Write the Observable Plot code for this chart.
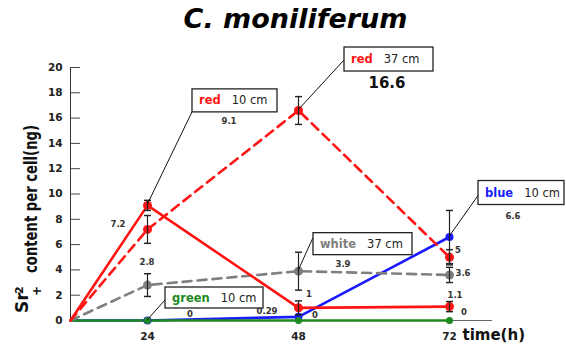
<!DOCTYPE html>
<html>
<head>
<meta charset="utf-8">
<script src="https://cdn.jsdelivr.net/npm/d3@7"></script>
<script src="https://cdn.jsdelivr.net/npm/@observablehq/plot@0.6"></script>
<style>
  body { margin: 0; background: #fff; }
  #wrap { position: relative; width: 566px; height: 347px; background: #fff; overflow: hidden; }
  #title { position: absolute; left: 0; top: 0; width: 591px; text-align: center;
           font: italic bold 27px "DejaVu Sans"; line-height: 38px; color: #000; }
  #chart { position: absolute; left: 0; top: 45px; }
  #chart svg { font-family: "DejaVu Sans"; }
</style>
</head>
<body>
<div id="wrap">
  <div id="title">C. moniliferum</div>
  <div id="chart"></div>
</div>
<script>
// ---- data ----
const times = [0, 24, 48, 72];
const red10cm = [0, 9.1, 1, 1.1];
const red10cmErr = [0, 0.4, 0.55, 0.4];
const red37cm = [0, 7.2, 16.6, 5];
const red37cmErr = [0, 1.1, 1.1, 0.6];
const white37cm = [0, 2.8, 3.9, 3.6];
const white37cmErr = [0, 0.9, 1.5, 0.6];
const blue10cm = [0, 0, 0.29, 6.6];
const blue10cmErr = [0, 0, 0, 2.1];
const green10cm = [0, 0, 0, 0];
const green10cmErr = [0, 0, 0, 0];
const yTicks = [0, 2, 4, 6, 8, 10, 12, 14, 16, 18, 20];
const xTicks = [24, 48, 72];
const seriesKeys = ["blue10", "green10", "white37", "red37", "red10"];
const seriesWord = { red10: "red", red37: "red", white37: "white", blue10: "blue", green10: "green" };
const seriesDepth = { red10: "10 cm", red37: "37 cm", white37: "37 cm", blue10: "10 cm", green10: "10 cm" };
const yTitleMain = "Sr";
const yTitleSup = "2";
const yTitleSub = "+";
const yTitleRest = "content per cell(ng)";
const xTitle = "time(h)";

// ---- styles ----
const styles = {
  red10:   { color: "#ff1414", dash: null, r: 4.5 },
  red37:   { color: "#ff1414", dash: "9,6", r: 4.5 },
  white37: { color: "#7f7f7f", dash: "9,6", r: 4.5 },
  blue10:  { color: "#1a1aff", dash: null, r: 4 },
  green10: { color: "#1e8a1e", dash: null, r: 3.5 }
};
const values = { red10: red10cm, red37: red37cm, white37: white37cm, blue10: blue10cm, green10: green10cm };
const errs = { red10: red10cmErr, red37: red37cmErr, white37: white37cmErr, blue10: blue10cmErr, green10: green10cmErr };

const rows = [];
for (const k of seriesKeys) times.forEach((t, i) => rows.push({ k, t, v: values[k][i], e: errs[k][i] }));
const pts = rows.filter(d => d.t > 0);
const errRows = pts.filter(d => d.e > 0);

const marks = [
  Plot.ruleY([0], { stroke: "#666", strokeWidth: 1 }),
  Plot.ruleX([0], { stroke: "#333", strokeWidth: 1 }),
  Plot.ruleY(yTicks, { stroke: "#444", strokeWidth: 1, insetRight: 412 }),
  Plot.axisY({ ticks: yTicks, tickSize: 0, tickPadding: 8, fontSize: 10.5, fontWeight: "bold", fill: "#222", label: null }),
  Plot.axisX({ ticks: xTicks, tickSize: 0, tickPadding: 12, fontSize: 10.5, fontWeight: "bold", fill: "#222", label: null }),
  Plot.text([xTitle], { frameAnchor: "bottom-right", dx: -30, dy: 19, textAnchor: "start", fontSize: 15, fontWeight: "bold", fill: "#111" })
];
for (const k of seriesKeys) {
  const s = styles[k];
  marks.push(Plot.line(rows.filter(d => d.k === k), { x: "t", y: "v", stroke: s.color, strokeWidth: 2.6, strokeDasharray: s.dash }));
}
for (const k of seriesKeys) {
  const s = styles[k];
  marks.push(Plot.dot(pts.filter(d => d.k === k), { x: "t", y: "v", r: s.r, fill: s.color, stroke: "none" }));
}
marks.push(Plot.link(errRows, { x1: "t", x2: "t", y1: d => d.v - d.e, y2: d => d.v + d.e, stroke: "#222", strokeWidth: 1.2, markerStart: "tick", markerEnd: "tick" }));

const plot = Plot.plot({
  width: 566, height: 302,
  marginLeft: 70, marginRight: 74, marginTop: 22, marginBottom: 27,
  x: { type: "linear", domain: times, range: [70, 147, 298, 449] },
  y: { domain: [0, 20] },
  marks
});
document.getElementById("chart").appendChild(plot);

// ---- annotations placed via the plot's scales ----
const X = plot.scale("x"), Y = plot.scale("y");
const svg = d3.select(plot);
const P = (k, t) => [X.apply(t), Y.apply(values[k][times.indexOf(t)])];

// value labels: series, time, pixel offset
const valueLabels = [
  ["red10", 24, 82, -84], ["red37", 24, -29, -5], ["red37", 72, 9, -7],
  ["white37", 24, 0, -23], ["white37", 48, 45, -7], ["white37", 72, 14, -1],
  ["red10", 48, 11, -13], ["red10", 72, 6, -11], ["blue10", 48, -31, -5],
  ["green10", 24, 43, -6], ["green10", 48, 17, -5], ["green10", 72, 15, -8],
  ["blue10", 72, 64, -21]
];
const gv = svg.append("g").attr("text-anchor", "middle");
for (const [k, t, dx, dy] of valueLabels) {
  const [px, py] = P(k, t);
  gv.append("text").attr("x", px + dx).attr("y", py + dy)
    .attr("dominant-baseline", "central")
    .attr("font-size", 8.5).attr("font-weight", "bold").attr("fill", "#333")
    .text(String(values[k][times.indexOf(t)]));
}
{
  const [px, py] = P("red37", 48);
  gv.append("text").attr("x", px + 89).attr("y", py - 27)
    .attr("dominant-baseline", "central")
    .attr("font-size", 15).attr("font-weight", "bold").attr("fill", "#111")
    .text(String(values.red37[2]));
}

// callout boxes: series, time, box offset, size, leader anchor on left edge
const callouts = [
  ["red10", 24, 45, -116, 85, 23, 23],
  ["red37", 48, 46, -63, 89, 24, 13],
  ["white37", 48, 15, -38, 99, 22, 5],
  ["blue10", 72, 29, -56, 86, 24, 15],
  ["green10", 24, 18, -33, 98, 21, 13]
];
const gc = svg.append("g").attr("text-anchor", "start");
for (const [k, t, bx, by, w, h, ay] of callouts) {
  const [px, py] = P(k, t);
  gc.append("line").attr("x1", px + bx).attr("y1", py + by + ay).attr("x2", px).attr("y2", py)
    .attr("stroke", "#111").attr("stroke-width", 1);
  gc.append("rect").attr("x", px + bx).attr("y", py + by).attr("width", w).attr("height", h)
    .attr("fill", "#fff").attr("stroke", "#222").attr("stroke-width", 1.3);
  const tx = gc.append("text").attr("x", px + bx + 7).attr("y", py + by + h / 2)
    .attr("dominant-baseline", "central").attr("font-size", 11.5);
  tx.append("tspan").attr("font-weight", "bold").attr("fill", styles[k].color).text(seriesWord[k]);
  tx.append("tspan").attr("dx", 11).attr("fill", "#222").text(seriesDepth[k]);
}

// y-axis title
const yt = svg.append("text").attr("transform", "translate(37,268) rotate(-90)")
  .attr("text-anchor", "start").attr("font-weight", "bold").attr("fill", "#111");
yt.append("tspan").attr("x", 0).attr("y", -9).attr("font-size", 17).text(yTitleMain);
yt.append("tspan").attr("x", 19).attr("y", -14).attr("font-size", 11).text(yTitleSup);
yt.append("tspan").attr("x", 17).attr("y", 4).attr("font-size", 12).text(yTitleSub);
yt.append("tspan").attr("x", 40).attr("y", 0).attr("font-size", 17)
  .attr("textLength", 148).attr("lengthAdjust", "spacingAndGlyphs").text(yTitleRest);
</script>
</body>
</html>
